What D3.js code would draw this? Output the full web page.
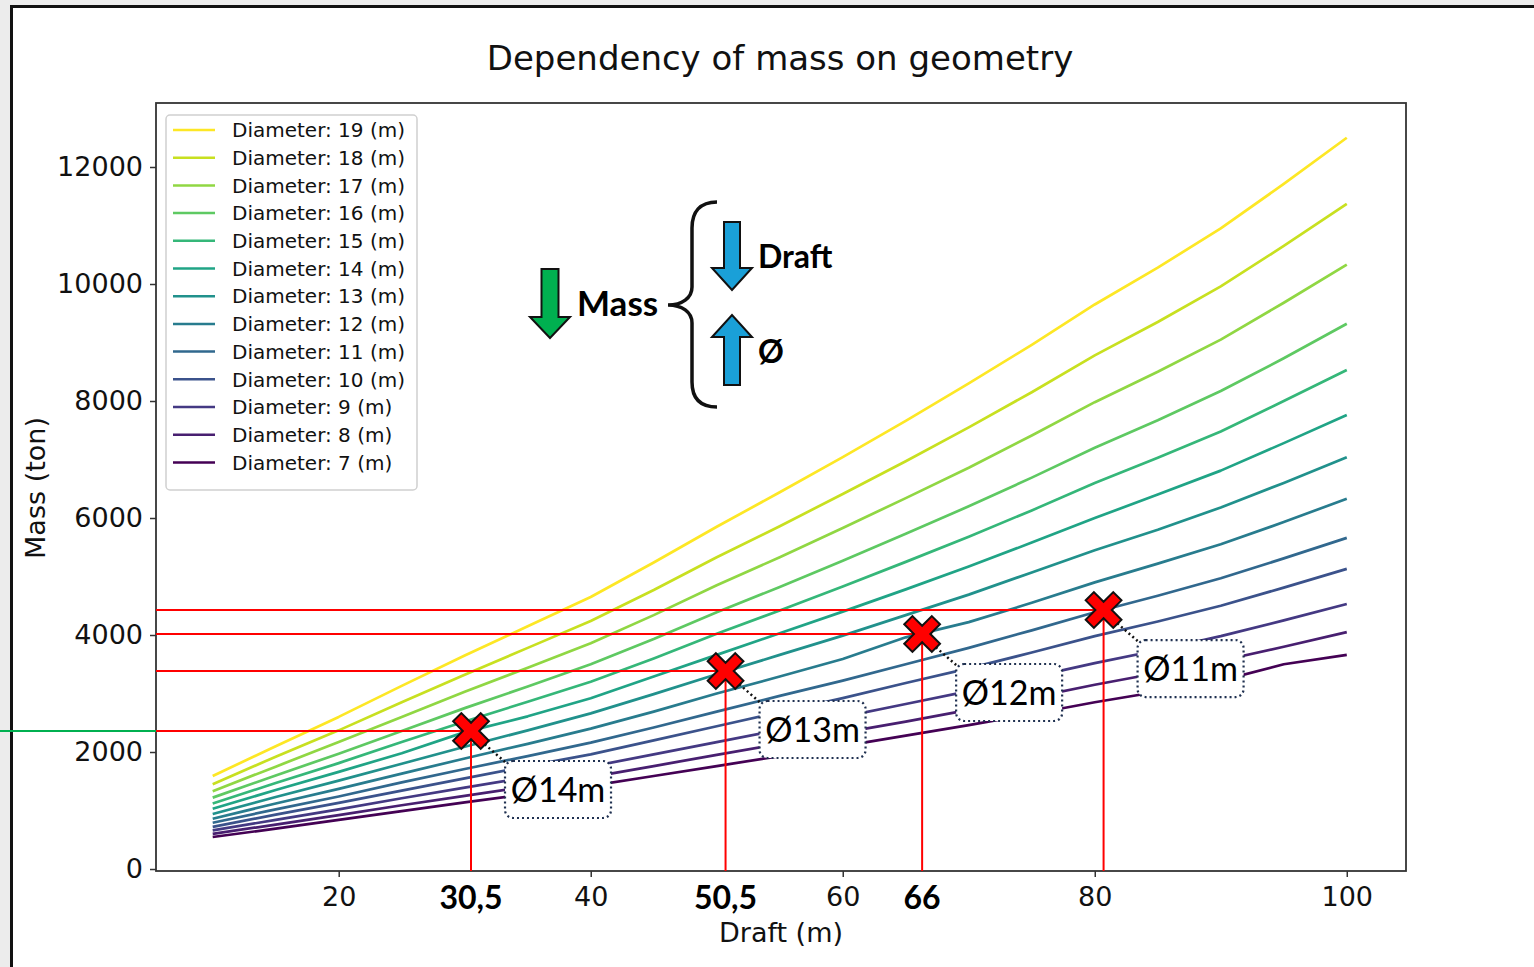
<!DOCTYPE html>
<html>
<head>
<meta charset="utf-8">
<script src="https://cdn.jsdelivr.net/npm/d3@7"></script>
<style>
  body { margin: 0; background: #ececec; }
  svg { display: block; }
</style>
</head>
<body>
<div id="chart"></div>
<script>
// Draft values (m), read every 5 m along the curves
const drafts = [10, 15, 20, 25, 30, 35, 40, 45, 50, 55, 60, 65, 70, 75, 80, 85, 90, 95, 100];

// Mass (ton) per diameter
const mass19 = [1590, 2100, 2600, 3130, 3650, 4150, 4650, 5240, 5850, 6440, 7040, 7660, 8300, 8960, 9650, 10280, 10950, 11710, 12500];
const mass18 = [1450, 1920, 2370, 2850, 3320, 3780, 4240, 4770, 5330, 5860, 6410, 6970, 7550, 8150, 8780, 9350, 9960, 10650, 11370];
const mass17 = [1330, 1750, 2170, 2600, 3030, 3440, 3860, 4340, 4850, 5330, 5830, 6340, 6860, 7410, 7980, 8500, 9050, 9680, 10330];
const mass16 = [1220, 1600, 1970, 2360, 2750, 3120, 3500, 3930, 4390, 4820, 5270, 5730, 6200, 6690, 7200, 7670, 8170, 8730, 9320];
const mass15 = [1120, 1470, 1810, 2170, 2520, 2860, 3200, 3600, 4020, 4420, 4830, 5250, 5680, 6130, 6600, 7030, 7480, 8000, 8530];
const mass14 = [1030, 1350, 1660, 1980, 2340, 2610, 2920, 3290, 3660, 4030, 4400, 4780, 5170, 5580, 6000, 6400, 6810, 7280, 7760];
const mass13 = [940, 1230, 1510, 1800, 2090, 2370, 2660, 2990, 3330, 3660, 3990, 4340, 4690, 5070, 5450, 5800, 6180, 6600, 7040];
const mass12 = [860, 1120, 1370, 1630, 1890, 2140, 2400, 2690, 3000, 3290, 3590, 3960, 4220, 4550, 4900, 5220, 5550, 5930, 6330];
const mass11 = [790, 1020, 1240, 1480, 1710, 1930, 2160, 2420, 2690, 2960, 3220, 3500, 3780, 4080, 4390, 4670, 4970, 5310, 5660];
const mass10 = [720, 930, 1130, 1340, 1550, 1760, 1960, 2200, 2440, 2680, 2920, 3180, 3430, 3700, 3980, 4230, 4500, 4810, 5130];
const mass9  = [660, 840, 1020, 1210, 1390, 1570, 1750, 1960, 2170, 2380, 2600, 2820, 3040, 3280, 3520, 3740, 3980, 4250, 4530];
const mass8  = [600, 760, 920, 1090, 1250, 1410, 1570, 1760, 1950, 2140, 2330, 2520, 2720, 2930, 3150, 3350, 3560, 3800, 4050];
const mass7  = [547, 690, 840, 990, 1140, 1280, 1420, 1590, 1760, 1930, 2100, 2280, 2460, 2650, 2850, 3030, 3220, 3500, 3660];

const diameters = [19, 18, 17, 16, 15, 14, 13, 12, 11, 10, 9, 8, 7];
const massByDiameter = [mass19, mass18, mass17, mass16, mass15, mass14, mass13, mass12, mass11, mass10, mass9, mass8, mass7];

// Picked designs (red crosses), positions as drawn in the picture
const pickDraft = [30.5, 50.7, 66.3, 80.7];
const pickMass = [2359, 3385, 4017, 4427];
const pickLabel = ["Ø14m", "Ø13m", "Ø12m", "Ø11m"];
const boldTickText = ["30,5", "50,5", "66"];

const xTicks = [20, 40, 60, 80, 100];
const yTicks = [0, 2000, 4000, 6000, 8000, 10000, 12000];

const width = 1534;
const height = 967;
const plot = { left: 156, right: 1406, top: 103, bottom: 871 };
const font = "'DejaVu Sans', sans-serif";
const callFont = "Lato, 'Open Sans', sans-serif";

const svg = d3.select("#chart").append("svg")
    .attr("width", width)
    .attr("height", height);

// Outer slide frame
svg.append("rect")
    .attr("x", 11.5).attr("y", 6.5)
    .attr("width", width + 20).attr("height", height + 20)
    .attr("fill", "#fff")
    .attr("stroke", "#111")
    .attr("stroke-width", 3);

const x = d3.scaleLinear().domain([5.5, 104.7]).range([plot.left, plot.right]);
const y = d3.scaleLinear().domain([-34, 13094]).range([plot.bottom, plot.top]);
const color = d3.scaleSequential(d3.interpolateViridis).domain([7, 19]);

// Title
svg.append("text")
    .attr("x", 780).attr("y", 70)
    .attr("text-anchor", "middle")
    .style("font-family", font).style("font-size", "34px")
    .style("fill", "#111")
    .text("Dependency of mass on geometry");

// Axes
const gx = svg.append("g")
    .attr("transform", `translate(0,${plot.bottom})`)
    .call(d3.axisBottom(x).tickValues(xTicks).tickSize(6).tickPadding(10).tickFormat(d3.format("d")));
const gy = svg.append("g")
    .attr("transform", `translate(${plot.left},0)`)
    .call(d3.axisLeft(y).tickValues(yTicks).tickSize(6).tickPadding(7).tickFormat(d3.format("d")));
[gx, gy].forEach(g => {
    g.select(".domain").remove();
    g.selectAll(".tick line").attr("stroke", "#333").attr("stroke-width", 1.5);
    g.selectAll(".tick text").style("font-family", font).style("font-size", "27px").style("fill", "#111");
});

svg.append("rect")
    .attr("x", plot.left).attr("y", plot.top)
    .attr("width", plot.right - plot.left).attr("height", plot.bottom - plot.top)
    .attr("fill", "none").attr("stroke", "#333").attr("stroke-width", 1.8);

// Axis labels
svg.append("text")
    .attr("x", 781).attr("y", 942)
    .attr("text-anchor", "middle")
    .style("font-family", font).style("font-size", "27px").style("fill", "#111")
    .text("Draft (m)");
svg.append("text")
    .attr("transform", "translate(45,488) rotate(-90)")
    .attr("text-anchor", "middle")
    .style("font-family", font).style("font-size", "27px").style("fill", "#111")
    .text("Mass (ton)");

// Curves
const line = d3.line()
    .x((d, i) => x(drafts[i]))
    .y(d => y(d));

diameters.slice().reverse().forEach(dia => {
    const idx = diameters.indexOf(dia);
    svg.append("path")
        .datum(massByDiameter[idx])
        .attr("d", line)
        .attr("fill", "none")
        .attr("stroke", color(dia))
        .attr("stroke-width", 2.7)
        .attr("stroke-linejoin", "round");
});

// Red guide lines
pickDraft.forEach((d, i) => {
    svg.append("line")
        .attr("x1", plot.left).attr("x2", x(d))
        .attr("y1", y(pickMass[i])).attr("y2", y(pickMass[i]))
        .attr("stroke", "#ff0000").attr("stroke-width", 2);
    svg.append("line")
        .attr("x1", x(d)).attr("x2", x(d))
        .attr("y1", y(pickMass[i])).attr("y2", plot.bottom)
        .attr("stroke", "#ff0000").attr("stroke-width", 2);
});

// Green marker outside the axis
svg.append("line")
    .attr("x1", 0).attr("x2", plot.left)
    .attr("y1", y(pickMass[0])).attr("y2", y(pickMass[0]))
    .attr("stroke", "#00b050").attr("stroke-width", 2);

// Bold draft labels
boldTickText.forEach((t, i) => {
    svg.append("text")
        .attr("x", x(pickDraft[i])).attr("y", 909)
        .attr("text-anchor", "middle")
        .style("font-family", callFont).style("font-weight", "bold").style("font-size", "32px")
        .style("fill", "#000")
        .text(t);
});

// Crosses, connectors and callouts
const a = 19.5, b = 5.8;
const crossPath = `M${-b},${-a} L${b},${-a} L${b},${-b} L${a},${-b} L${a},${b} L${b},${b} L${b},${a} L${-b},${a} L${-b},${b} L${-a},${b} L${-a},${-b} L${-b},${-b} Z`;

pickDraft.forEach((d, i) => {
    const mx = x(d), my = y(pickMass[i]);
    svg.append("line")
        .attr("x1", mx + 10).attr("y1", my + 10)
        .attr("x2", mx + 34).attr("y2", my + 31)
        .attr("stroke", "#111").attr("stroke-width", 2.5)
        .attr("stroke-dasharray", "2,3");
    svg.append("path")
        .attr("d", crossPath)
        .attr("transform", `translate(${mx},${my}) rotate(45)`)
        .attr("fill", "#ff0000")
        .attr("stroke", "#111").attr("stroke-width", 2)
        .attr("stroke-linejoin", "miter");
    svg.append("rect")
        .attr("x", mx + 34).attr("y", my + 30)
        .attr("width", 106).attr("height", 57)
        .attr("rx", 8)
        .attr("fill", "#fff")
        .attr("stroke", "#1f3050").attr("stroke-width", 2.2)
        .attr("stroke-dasharray", "2,3");
    svg.append("text")
        .attr("x", mx + 87).attr("y", my + 71)
        .attr("text-anchor", "middle")
        .style("font-family", callFont).style("font-size", "34px").style("fill", "#000")
        .text(pickLabel[i]);
});

// Legend
const legend = svg.append("g").attr("transform", "translate(166,115)");
legend.append("rect")
    .attr("width", 251).attr("height", 375)
    .attr("rx", 4)
    .attr("fill", "#fff").attr("fill-opacity", 0.85)
    .attr("stroke", "#d0d0d0").attr("stroke-width", 1.5);
diameters.forEach((dia, i) => {
    const cy = 15 + i * 27.7;
    legend.append("line")
        .attr("x1", 7).attr("x2", 49)
        .attr("y1", cy).attr("y2", cy)
        .attr("stroke", color(dia)).attr("stroke-width", 2.5);
    legend.append("text")
        .attr("x", 66).attr("y", cy)
        .attr("dy", "0.36em")
        .style("font-family", font).style("font-size", "20px").style("fill", "#111")
        .text(`Diameter: ${dia} (m)`);
});

// Callout: less mass <- less draft / more diameter
function arrow(cx, tipY, tailY, shaft, head, headLen) {
    const dir = tipY > tailY ? 1 : -1;
    const hb = tipY - dir * headLen;
    return `M${cx - shaft / 2},${tailY} L${cx + shaft / 2},${tailY} L${cx + shaft / 2},${hb} L${cx + head / 2},${hb} L${cx},${tipY} L${cx - head / 2},${hb} L${cx - shaft / 2},${hb} Z`;
}
const note = svg.append("g");
note.append("path").attr("d", arrow(550, 338, 269, 17, 40, 21))
    .attr("fill", "#00b050").attr("stroke", "#111").attr("stroke-width", 2);
note.append("path").attr("d", arrow(732, 290, 222, 16, 40, 22))
    .attr("fill", "#1aa0d8").attr("stroke", "#111").attr("stroke-width", 2);
note.append("path").attr("d", arrow(732, 315, 385, 16, 40, 22))
    .attr("fill", "#1aa0d8").attr("stroke", "#111").attr("stroke-width", 2);
note.append("path")
    .attr("d", "M717,202 C700,202 692,212 692,228 L692,287 C692,298 682,305 668,305 C682,305 692,312 692,323 L692,382 C692,398 700,407 717,407")
    .attr("fill", "none").attr("stroke", "#111").attr("stroke-width", 3.5);
note.append("text").attr("x", 577).attr("y", 316)
    .style("font-family", callFont).style("font-weight", "bold").style("font-size", "35px")
    .text("Mass");
note.append("text").attr("x", 758).attr("y", 268)
    .style("font-family", callFont).style("font-weight", "bold").style("font-size", "32px")
    .text("Draft");
note.append("text").attr("x", 758).attr("y", 363)
    .style("font-family", callFont).style("font-weight", "bold").style("font-size", "32px")
    .text("Ø");
</script>
</body>
</html>
